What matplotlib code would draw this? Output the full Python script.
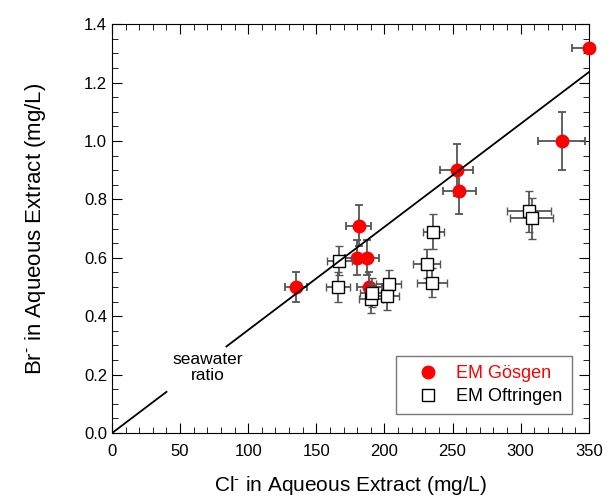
import numpy as np
import matplotlib.pyplot as plt
from matplotlib.ticker import MultipleLocator
from matplotlib.lines import Line2D

plt.rcParams['font.family'] = ['Liberation Sans', 'DejaVu Sans']
plt.rcParams['mathtext.fontset'] = 'custom'
plt.rcParams['mathtext.rm'] = 'Liberation Sans'
plt.rcParams['mathtext.it'] = 'Liberation Sans'

# EM Goesgen
cl_g = [135, 181, 180, 187, 189, 253, 255, 330, 350]
br_g = [0.50, 0.71, 0.60, 0.60, 0.50, 0.90, 0.83, 1.00, 1.32]
cl_g_err = [8, 9, 9, 9, 9, 12, 12, 17, 12]
br_g_err = [0.05, 0.07, 0.06, 0.06, 0.05, 0.09, 0.08, 0.10, 0.0]

# EM Oftringen
cl_o = [167, 166, 190, 191, 203, 202, 231, 235, 236, 306, 308]
br_o = [0.59, 0.50, 0.46, 0.48, 0.51, 0.47, 0.58, 0.515, 0.69, 0.76, 0.735]
cl_o_err = [9, 9, 9, 9, 9, 9, 10, 11, 8, 16, 16]
br_o_err = [0.05, 0.05, 0.05, 0.05, 0.05, 0.05, 0.05, 0.05, 0.06, 0.07, 0.07]

seawater = 0.00353   # Br/Cl mass ratio

fig = plt.figure(figsize=(6.07, 5.03), dpi=100)
ax = fig.add_axes([0.1845, 0.139, 0.7855, 0.813])

ebc = '#555555'
eg = ax.errorbar(cl_g, br_g, xerr=cl_g_err, yerr=br_g_err, fmt='o', color='red',
                 ms=9, ecolor=ebc, elinewidth=1.3, capsize=3, capthick=1.3,
                 zorder=3)
eo = ax.errorbar(cl_o, br_o, xerr=cl_o_err, yerr=br_o_err, fmt='s', mfc='white',
                 mec='black', mew=1.0, ms=8.5, ecolor=ebc, elinewidth=1.3,
                 capsize=3, capthick=1.3, zorder=4)
eg[0].set_clip_on(False)

# seawater line, broken where the label sits
for x0, x1 in [(0, 40), (84, 350)]:
    xs = np.array([x0, x1])
    ax.plot(xs, seawater * xs, color='black', lw=1.3, zorder=5)
ax.text(70, 0.225, 'seawater\nratio', ha='center', va='center', fontsize=12.5,
        linespacing=1.1)

ax.set_xlim(0, 350)
ax.set_ylim(0, 1.4)
ax.xaxis.set_major_locator(MultipleLocator(50))
ax.xaxis.set_minor_locator(MultipleLocator(10))
ax.yaxis.set_major_locator(MultipleLocator(0.2))
ax.yaxis.set_minor_locator(MultipleLocator(0.05))
ax.yaxis.set_major_formatter(plt.FormatStrFormatter('%.1f'))
ax.tick_params(which='both', direction='in', top=True, right=True, labelsize=12)
ax.tick_params(which='major', length=7)
ax.tick_params(which='minor', length=4)
ax.tick_params(axis='x', pad=8)

ax.set_xlabel('Cl$^{\u2010}$ in Aqueous Extract (mg/L)', fontsize=15, labelpad=11)
ax.set_ylabel('Br$^{\u2010}$ in Aqueous Extract (mg/L)', fontsize=16, labelpad=26)

handles = [
    Line2D([], [], ls='none', marker='o', color='red', ms=9),
    Line2D([], [], ls='none', marker='s', mfc='white', mec='black', mew=1.0, ms=8.5),
]
leg = ax.legend(handles, ['EM Gösgen', 'EM Oftringen'], loc='lower right',
                bbox_to_anchor=(0.964, 0.046), borderaxespad=0, fontsize=13,
                frameon=True, fancybox=False, edgecolor='#555555',
                handletextpad=0.22, borderpad=0.5, labelspacing=0.35,
                handlelength=2.65)
leg.get_frame().set_linewidth(1.0)
leg.get_texts()[0].set_color('red')

fig.savefig('out.png', dpi=100)
